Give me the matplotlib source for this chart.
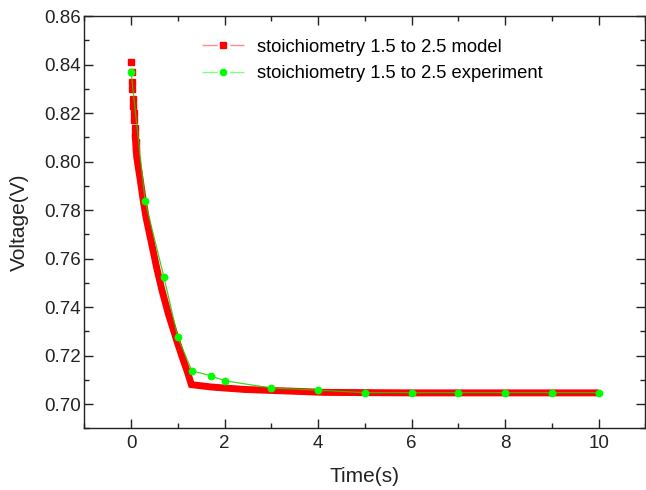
import matplotlib
matplotlib.use("Agg")
import matplotlib.pyplot as plt
from matplotlib.lines import Line2D

plt.rcParams["font.family"] = ["Liberation Sans", "DejaVu Sans"]

# model curve (dense points)
model_t = [0.00, 0.01, 0.02, 0.03, 0.04, 0.05, 0.06, 0.07, 0.08, 0.09, 0.10, 0.11, 0.12,
           0.16, 0.20, 0.26, 0.32, 0.43, 0.55, 0.66, 0.80, 0.98, 1.10, 1.20, 1.29,
           1.50, 1.73, 2.00, 2.44, 3.15, 4.14, 5.00, 6.00, 7.00, 8.00, 9.00, 10.00]
model_v = [0.841, 0.837, 0.833, 0.830, 0.826, 0.823, 0.820, 0.817, 0.814, 0.811, 0.808, 0.805, 0.802,
           0.797, 0.792, 0.784, 0.777, 0.767, 0.756, 0.747, 0.737, 0.726, 0.719, 0.7135, 0.708,
           0.7075, 0.7070, 0.7066, 0.7060, 0.7055, 0.7048, 0.7047, 0.7046, 0.7046, 0.7046, 0.7046, 0.7046]

# experiment points
exp_t = [0, 0.3, 0.7, 1.0, 1.3, 1.7, 2, 3, 4, 5, 6, 7, 8, 9, 10]
exp_v = [0.837, 0.7837, 0.7526, 0.7275, 0.7137, 0.7117, 0.7096, 0.7066, 0.7057,
         0.7047, 0.7047, 0.7047, 0.7047, 0.7047, 0.7047]

labels = ["stoichiometry 1.5 to 2.5 model", "stoichiometry 1.5 to 2.5 experiment"]
red = "#ff0000"
green = "#00ff00"

fig = plt.figure(figsize=(6.46, 4.90), dpi=100)
ax = fig.add_axes([0.1305, 0.126, 0.8687, 0.841])

# thick band formed by the overlapping square markers of the model
ax.plot(model_t[9:], model_v[9:], color=red, lw=5.0, solid_joinstyle="miter",
        solid_capstyle="butt", zorder=2)
ax.plot(model_t[:12], model_v[:12], color=red, lw=0.8, ls="none", marker="s", ms=4.0,
        mec=red, mfc=red, zorder=3)

ax.plot(exp_t, exp_v, color="#22cc00", alpha=0.85, lw=0.9, zorder=4)
ax.plot(exp_t, exp_v, ls="none", marker="o", ms=4.6, mec=green, mfc=green, zorder=5)

ax.set_xlim(-1, 11)
ax.set_ylim(0.69, 0.86)
ax.set_xticks([0, 2, 4, 6, 8, 10])
ax.set_xticks(range(-1, 12), minor=True)
ax.set_yticks([0.70, 0.72, 0.74, 0.76, 0.78, 0.80, 0.82, 0.84, 0.86])
ax.set_yticks([0.69 + 0.01 * i for i in range(18)], minor=True)
ax.set_yticklabels(["%.2f" % v for v in ax.get_yticks()])

ax.tick_params(which="both", direction="in", top=True, right=True, width=1.0, colors="#222222")
ax.tick_params(which="major", length=6.5, labelsize=13.5)
ax.tick_params(which="minor", length=3.5)
ax.tick_params(axis="x", pad=5)
ax.tick_params(axis="y", pad=2.5)
for s in ax.spines.values():
    s.set_linewidth(1.0)
    s.set_color("#222222")

ax.set_xlabel("Time(s)", fontsize=15, labelpad=11, color="#222222")
ax.set_ylabel("Voltage(V)", fontsize=15, labelpad=11, color="#222222")

handles = [
    Line2D([], [], color="#ff8c8c", lw=1.0, dashes=[11, 9, 12, 100], marker="s", ms=4.5,
           mec=red, mfc=red),
    Line2D([], [], color="#7fff7f", lw=1.0, dashes=[11, 9, 12, 100], marker="o", ms=4.5,
           mec=green, mfc=green),
]
ax.legend(handles, labels, loc="upper left", bbox_to_anchor=(0.18, 0.985), frameon=False,
          fontsize=13.2, handlelength=2.3, handletextpad=0.7, labelspacing=0.5)

fig.savefig("out.png", dpi=100)
